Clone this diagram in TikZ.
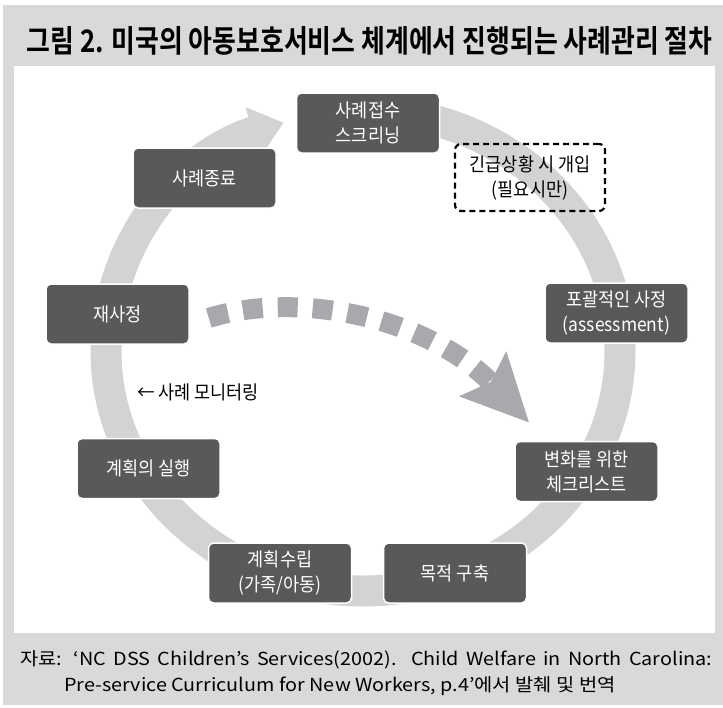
\documentclass[tikz,border=0pt]{standalone}
\usepackage{fontspec}
\setmainfont{Noto Sans CJK KR}[FakeStretch=0.92]
\newfontfamily\titlefont{Noto Sans CJK KR Bold}[FakeStretch=0.835]
\newfontfamily\notefont{Noto Sans CJK KR}[FakeStretch=1.1]
\usetikzlibrary{arrows.meta, positioning, calc}
\definecolor{panelgray}{RGB}{217, 217, 217}
\definecolor{boxgray}{RGB}{88, 89, 91}
\definecolor{ringgray}{RGB}{209, 211, 212}
\definecolor{dashgray}{RGB}{167, 169, 172}

\begin{document}
\begin{tikzpicture}[
    x=1pt, y=-1pt,
    stage/.style={rectangle, draw=white, line width=1.5pt, fill=boxgray, rounded corners=5pt, minimum width=143pt, minimum height=60pt, inner sep=2pt, align=center, text=white, font=\fontsize{19}{25}\selectfont},
    optional/.style={rectangle, draw=black, line width=2.2pt, dash pattern=on 6pt off 4pt, rounded corners=6pt, minimum width=150pt, minimum height=67pt, align=center, font=\fontsize{19}{25}\selectfont},
    ring/.style={line width=31pt, color=ringgray, -{Triangle[length=32pt, width=50pt]}},
    shortcut/.style={line width=20pt, color=dashgray, dash pattern=on 20pt off 15pt, -{Stealth[length=66pt, width=62pt, inset=10pt]}},
    note/.style={anchor=west, inner sep=0pt, font=\notefont\fontsize{18}{24}\selectfont}
]
    \useasboundingbox (0,0) rectangle (723,707);
    \fill[white] (0,0) rectangle (723,707);
    \fill[panelgray] (3,5) rectangle (723,705);
    \fill[white] (14,66) rectangle (715,633);

    \node[font=\titlefont\fontsize{31}{31}\selectfont] (title) at (369.5,41) {그림 2. 미국의 아동보호서비스 체계에서 진행되는 사례관리 절차};

    % cycle ring behind the stages
    \coordinate (hub) at (363,351);
    \draw[ring] (hub) ++(-90:257 and 240) arc[start angle=-90, end angle=252, x radius=257, y radius=240];

    \node[stage] (intake) at (368,123) {사례접수\\스크리닝};
    \node[stage] (assess) at (616.5,313) {포괄적인 사정\\(assessment)};
    \node[stage] (check) at (586.5,471.5) {변화를 위한\\체크리스트};
    \node[stage] (goal) at (455,573) {목적 구축};
    \node[stage] (plan) at (280,573) {계획수립\\(가족/아동)};
    \node[stage] (act) at (148.5,468.5) {계획의 실행};
    \node[stage] (reassess) at (117.5,314) {재사정};
    \node[stage] (close) at (204.5,178) {사례종료};
    \node[optional] (crisis) at (530,177.5) {긴급상황 시 개입\\(필요시만)};
    \node[font=\fontsize{19}{25}\selectfont] (monitor) at (198,392) {← 사례 모니터링};

    \draw[shortcut] ([xshift=19pt, yshift=-4pt]reassess.east) .. controls +(90,-28) and +(-100,-105) .. ([xshift=15pt, yshift=18pt]check.north west);

    \node[note] (source) at (20,660) {\makebox[692pt][s]{자료: ‘NC DSS Children’s Services(2002). Child Welfare in North Carolina:}};
    \node[note] (source2) at (64,686) {Pre-service Curriculum for New Workers, p.4’에서 발췌 및 번역};
\end{tikzpicture}
\end{document}
